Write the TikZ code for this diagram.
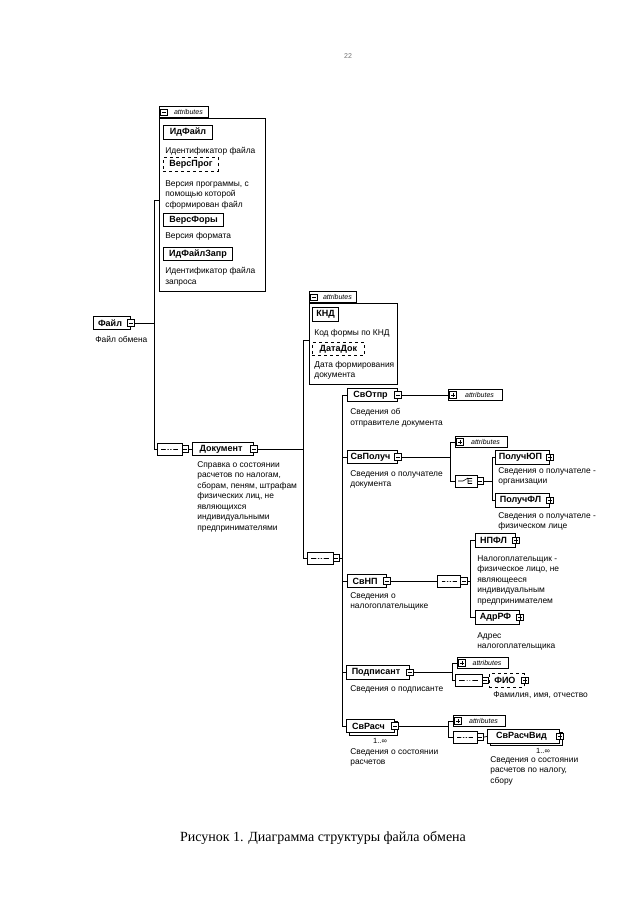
\documentclass[tikz,border=0pt]{standalone}
\usepackage{fontspec}
\setmainfont{Liberation Sans}
\newfontfamily\capfont{Liberation Serif}
\usetikzlibrary{shapes.misc,shadows}
\newcommand\xlbl{\bfseries\fontsize{9}{10}\selectfont}
\newcommand\xdsc{\fontsize{8.4}{10.5}\selectfont}
\newcommand\xatt{\itshape\fontsize{7}{8}\selectfont}
\begin{document}
\begin{tikzpicture}[x=1pt,y=-1pt,line width=0.7pt,
  box/.style={draw,fill=white,line width=1pt,font=\xlbl,inner sep=0pt,anchor=west,minimum height=13.5pt},
  el/.style={box,execute at begin node=\hspace*{1pt},execute at end node=\hspace*{5pt}},
  optel/.style={el,dashed,line width=0.8pt},
  optbox/.style={box,dashed,line width=0.8pt},
  multi/.style={el,copy shadow={shadow xshift=2.5pt,shadow yshift=-2.5pt}},
  desc/.style={font=\xdsc,anchor=north west,align=left,inner sep=0pt},
  grp/.style={draw,line width=0.8pt,inner sep=0pt,anchor=north west},
  tabx/.style={draw,fill=white,line width=0.8pt,inner sep=0pt,anchor=south west,minimum height=11pt,font=\xatt},
  attc/.style={draw,fill=white,line width=1pt,inner sep=0pt,anchor=west,minimum height=10.5pt,font=\xatt},
  icon/.style={draw,fill=white,line width=0.6pt,minimum width=6.5pt,minimum height=6.5pt,inner sep=0pt},
  minus/.style={icon,path picture={\draw[line width=0.6pt] ([xshift=1.2pt]path picture bounding box.west) -- ([xshift=-1.2pt]path picture bounding box.east);}},
  plus/.style={icon,path picture={\draw[line width=0.6pt] ([xshift=1.2pt]path picture bounding box.west) -- ([xshift=-1.2pt]path picture bounding box.east) ([yshift=-1.2pt]path picture bounding box.north) -- ([yshift=1.2pt]path picture bounding box.south);}},
  comp/.style={chamfered rectangle,chamfered rectangle xsep=3.5pt,draw,fill=white,line width=0.8pt,minimum height=12pt,inner sep=0pt},
  seq/.style={comp,path picture={\draw[line width=0.6pt] ([xshift=4pt]path picture bounding box.west) -- ([xshift=-4pt]path picture bounding box.east);
      \foreach \d in {-2.8,0,2.8} \fill ([xshift=\d pt]path picture bounding box.center) circle (1.2pt);}},
  choice/.style={comp,path picture={\draw[line width=0.6pt] ([xshift=3pt]path picture bounding box.west) -- ([xshift=-3pt]path picture bounding box.center) -- ([shift={(2,-3)}]path picture bounding box.center)
      ([shift={(2,-2.5)}]path picture bounding box.center) -- ([shift={(2,2.5)}]path picture bounding box.center)
      ([shift={(2,-2.5)}]path picture bounding box.center) -- ([shift={(6,-2.5)}]path picture bounding box.center)
      ([shift={(2,0)}]path picture bounding box.center) -- ([shift={(6,0)}]path picture bounding box.center)
      ([shift={(2,2.5)}]path picture bounding box.center) -- ([shift={(6,2.5)}]path picture bounding box.center);}},
  mult/.style={font=\fontsize{7.5}{8}\selectfont,inner sep=0pt}
]
\path[use as bounding box,fill=white] (0,0) rectangle (640,905);

\node[font=\fontsize{7}{8}\selectfont,text=black!55] (pg) at (348,56) {22};

% ---- attributes of Файл
\node[grp,minimum width=106pt,minimum height=173pt] (a1) at (159,118) {};
\node[tabx,minimum width=49pt] (a1t) at (a1.north west) {\hspace*{9pt}attributes};
\node[minus] (a1m) at ([xshift=5pt]a1t.west) {};
\node[box,minimum width=49pt] (idf) at (163,132.5) {ИдФайл};
\node[desc] (idfd) at (165,147) {Идентификатор файла};
\node[optbox,minimum width=55pt] (vp) at (163,164.5) {ВерсПрог};
\node[desc] (vpd) at (165,180) {Версия программы, с\\помощью которой\\сформирован файл};
\node[box,minimum width=60pt] (vf) at (163,220) {ВерсФоры};
\node[desc] (vfd) at (165,232) {Версия формата};
\node[box,minimum width=69pt] (idz) at (163,254) {ИдФайлЗапр};
\node[desc] (idzd) at (165,267) {Идентификатор файла\\запроса};

% ---- Файл
\node[el,minimum width=37pt] (fail) at (93,323) {Файл};
\node[minus] (faili) at (fail.east) {};
\node[desc] (faild) at (95,336) {Файл обмена};
\coordinate (v1t) at (154,200);
\coordinate (v1b) at (154,449);
\node[seq,minimum width=25pt] (c1) at (169.5,449) {};
\node[minus] (c1i) at ([xshift=3pt]c1.east) {};
\draw (faili.east) -- (faili.east -| v1t);
\draw (a1.west |- v1t) -- (v1t) -- (v1b) -- (c1.west);

% ---- Документ
\node[el,minimum width=61pt] (doc) at (192,449) {Документ};
\node[minus] (doci) at (doc.east) {};
\draw (c1i.east) -- (doc.west);
\node[desc] (docd) at (197,461) {Справка о состоянии\\расчетов по налогам,\\сборам, пеням, штрафам\\физических лиц, не\\являющихся\\индивидуальными\\предпринимателями};

% ---- attributes of Документ
\node[grp,minimum width=88pt,minimum height=81pt] (a2) at (309,303) {};
\node[tabx,minimum width=47pt] (a2t) at (a2.north west) {\hspace*{9pt}attributes};
\node[minus] (a2m) at ([xshift=5pt]a2t.west) {};
\node[box,minimum width=26pt] (knd) at (312,314.5) {КНД};
\node[desc] (kndd) at (314,329) {Код формы по КНД};
\node[optbox,minimum width=52pt] (dd) at (312,349) {ДатаДок};
\node[desc] (ddd) at (314,361) {Дата формирования\\документа};

\coordinate (v2t) at (303,340);
\coordinate (v2b) at (303,558);
\node[seq,minimum width=26pt] (c2) at (320,558) {};
\node[minus] (c2i) at ([xshift=3pt]c2.east) {};
\draw (doci.east) -- (doci.east -| v2t);
\draw (a2.west |- v2t) -- (v2t) -- (v2b) -- (c2.west);

% ---- children of Документ
\node[el,minimum width=50pt] (svotpr) at (347,395) {СвОтпр};
\node[minus] (svotpri) at (svotpr.east) {};
\node[attc,minimum width=54pt] (a3) at (448,395) {\hspace{8pt}attributes};
\node[plus] (a3p) at ([xshift=5pt]a3.west) {};
\draw (svotpri.east) -- (a3.west);
\node[desc] (svotprd) at (350,408) {Сведения об\\отправителе документа};

\node[el,minimum width=50pt] (svpol) at (347,457) {СвПолуч};
\node[minus] (svpoli) at (svpol.east) {};
\node[desc] (svpold) at (350,470) {Сведения о получателе\\документа};
\node[attc,minimum width=52pt] (a4) at (455,442) {\hspace{8pt}attributes};
\node[plus] (a4p) at ([xshift=5pt]a4.west) {};
\node[choice,minimum width=22pt] (c3) at (466,481) {};
\node[minus] (c3i) at ([xshift=3pt]c3.east) {};
\coordinate (v4b) at (450,481);
\draw (svpoli.east) -- (svpoli.east -| v4b);
\draw (a4.west) -| (v4b) -- (c3.west);
\node[el,minimum width=54pt] (pul) at (495,457.5) {ПолучЮП};
\node[plus] (puli) at (pul.east) {};
\node[desc] (puld) at (498,467) {Сведения о получателе -\\организации};
\node[el,minimum width=54pt] (pfl) at (495,500.5) {ПолучФЛ};
\node[plus] (pfli) at (pfl.east) {};
\node[desc] (pfld) at (498,512) {Сведения о получателе -\\физическом лице};
\coordinate (v5b) at (492,500.5);
\draw (pul.west) -| (v5b) -- (pfl.west);
\draw (c3i.east) -- (c3i.east -| v5b);

\node[el,minimum width=39pt] (svnp) at (347,581) {СвНП};
\node[minus] (svnpi) at (svnp.east) {};
\node[desc] (svnpd) at (350,592) {Сведения о\\налогоплательщике};
\node[seq,minimum width=23pt] (c4) at (449,581) {};
\node[minus] (c4i) at ([xshift=3pt]c4.east) {};
\draw (svnpi.east) -- (c4.west);
\node[el,minimum width=40pt] (npfl) at (475,540.5) {НПФЛ};
\node[plus] (npfli) at (npfl.east) {};
\node[desc] (npfld) at (477,555) {Налогоплательщик -\\физическое лицо, не\\являющееся\\индивидуальным\\предпринимателем};
\node[el,minimum width=44pt] (adr) at (475,617.5) {АдрРФ};
\node[plus] (adri) at (adr.east) {};
\node[desc] (adrd) at (477,632) {Адрес\\налогоплательщика};
\coordinate (v6b) at (470,617.5);
\draw (npfl.west) -| (v6b) -- (adr.west);
\draw (c4i.east) -- (c4i.east -| v6b);

\node[el,minimum width=63pt] (podp) at (346,672.5) {Подписант};
\node[minus] (podpi) at (podp.east) {};
\node[desc] (podpd) at (350,685) {Сведения о подписанте};
\node[attc,minimum width=51pt] (a5) at (457,663) {\hspace{8pt}attributes};
\node[plus] (a5p) at ([xshift=5pt]a5.west) {};
\node[seq,minimum width=27pt] (c5) at (468.5,680.5) {};
\node[minus] (c5i) at ([xshift=3pt]c5.east) {};
\coordinate (v7b) at (452,680.5);
\draw (podpi.east) -- (podpi.east -| v7b);
\draw (a5.west) -| (v7b) -- (c5.west);
\node[optel,minimum width=35pt] (fio) at (489,680.5) {ФИО};
\node[plus] (fioi) at (fio.east) {};
\draw (c5i.east) -- (fio.west);
\node[desc] (fiod) at (493,691) {Фамилия, имя, отчество};

\node[multi,minimum width=48pt] (svr) at (346,726) {СвРасч};
\node[minus] (svri) at (svr.east) {};
\node[mult] (svrm) at (380,741) {1..∞};
\node[desc] (svrd) at (350,748) {Сведения о состоянии\\расчетов};
\node[attc,minimum width=52pt] (a6) at (453,721) {\hspace{8pt}attributes};
\node[plus] (a6p) at ([xshift=5pt]a6.west) {};
\node[seq,minimum width=24pt] (c6) at (465,737) {};
\node[minus] (c6i) at ([xshift=3pt]c6.east) {};
\coordinate (v8b) at (448,737);
\draw (svri.east) -- (svri.east -| v8b);
\draw (a6.west) -| (v8b) -- (c6.west);
\node[multi,minimum width=72pt] (svv) at (487,736.5) {СвРасчВид};
\node[plus] (svvi) at (svv.east) {};
\draw (c6i.east) -- (svv.west);
\node[mult] (svvm) at (543,751) {1..∞};
\node[desc] (svvd) at (490,756) {Сведения о состоянии\\расчетов по налогу,\\сбору};

% main branch of the sequence
\coordinate (v3b) at (342,726);
\draw (c2i.east) -- (c2i.east -| v3b);
\draw (svotpr.west) -| (v3b) -- (svr.west);
\draw (svpol.west) -- (svpol.west -| v3b);
\draw (svnp.west) -- (svnp.west -| v3b);
\draw (podp.west) -- (podp.west -| v3b);

\node[font=\capfont\fontsize{14}{16}\selectfont] (cap) at (323,838) {Рисунок 1. Диаграмма структуры файла обмена};
\end{tikzpicture}
\end{document}
